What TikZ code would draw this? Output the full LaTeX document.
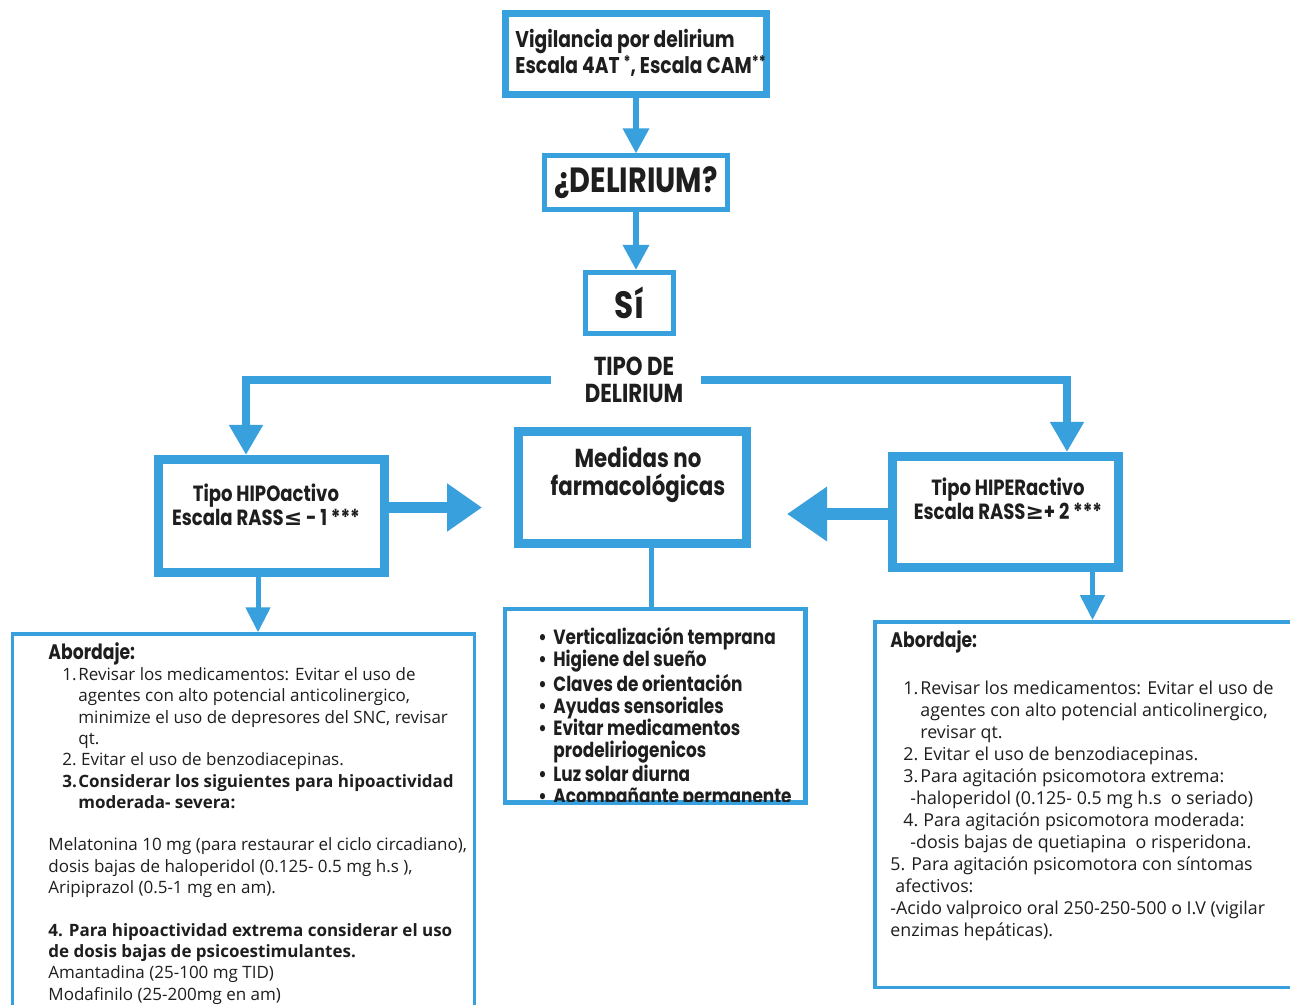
\documentclass[tikz,border=0pt]{standalone}
\usepackage{fontspec}
\setmainfont{Open Sans}
\newfontfamily\hfont{Poppins}[FakeStretch=0.82]
\newfontfamily\symfont{DejaVu Sans}
\usetikzlibrary{arrows.meta}
\definecolor{flowblue}{HTML}{38A0DD}
\definecolor{ink}{HTML}{1E1E1E}
\newcommand{\smallstars}[1]{\raisebox{3pt}{\fontsize{8}{8}\selectfont #1}}
\begin{document}
\begin{tikzpicture}[x=0.5pt,y=-0.5pt,
  box/.style={draw=flowblue, fill=white, rectangle, inner sep=0pt},
  heading/.style={text=ink, inner sep=0pt, align=center},
  body/.style={text=ink, inner sep=0pt, align=left, anchor=north west},
  conn/.style={draw=flowblue, line width=2.5pt, -{Triangle[width=12pt,length=12.5pt]}},
  topconn/.style={draw=flowblue, line width=3pt, -{Triangle[width=12.5pt,length=12.5pt]}},
  bigconn/.style={draw=flowblue, line width=4pt, -{Triangle[width=16pt,length=15pt]}},
  plainconn/.style={draw=flowblue, line width=2.5pt},
  blockarrow/.style={draw=flowblue, -{Triangle[width=23pt,length=17.5pt]}}
]
\useasboundingbox (0,0) rectangle (1290,1005);
\clip (0,0) rectangle (1290,1005);
\fill[white] (0,0) rectangle (1290,1005);

% ---- top of the flow ----
\node[box, line width=3.5pt, minimum width=130.5pt, minimum height=40.5pt] (vig) at (636,54) {};
\node[heading, align=left, anchor=west, font={\hfont\bfseries\fontsize{11.4}{12}\selectfont}] (vigtxt) at (515,53)
  {Vigilancia por delirium\\Escala 4AT \smallstars{*}, Escala CAM\smallstars{**}};

\node[box, line width=2.5pt, minimum width=91.5pt, minimum height=27pt,
      font={\hfont\bfseries\fontsize{17.5}{18}\selectfont}, text=ink] (delir) at (636,183) {¿DELIRIUM?};

\node[box, line width=2.5pt, minimum width=44pt, minimum height=30.5pt,
      font={\hfont\bfseries\fontsize{19}{19}\selectfont}, text=ink] (si) at (629.5,303) {Sí};

\node[heading, inner xsep=8.5pt, font={\hfont\bfseries\fontsize{13}{13.5}\selectfont}] (tipo) at (634,380)
  {TIPO DE\\DELIRIUM};

% ---- delirium types ----
\node[box, line width=4.5pt, minimum width=113pt, minimum height=56.5pt] (hipo) at (271,516) {};
\node[heading, font={\hfont\bfseries\fontsize{11}{12}\selectfont}] (hipotxt) at (266,505)
  {Tipo HIPOactivo\\Escala RASS{\symfont\bfseries ≤} - 1 ***};

\node[box, line width=4.5pt, minimum width=114pt, minimum height=56pt] (med) at (632.5,487.5) {};
\node[heading, font={\hfont\bfseries\fontsize{13}{14}\selectfont}] (medtxt) at (638,475)
  {Medidas no\\farmacológicas};

\node[box, line width=4.5pt, minimum width=113pt, minimum height=55.5pt] (hiper) at (1005.5,512) {};
\node[heading, font={\hfont\bfseries\fontsize{11}{12}\selectfont}] (hipertxt) at (1008,499)
  {Tipo HIPERactivo\\Escala RASS{\symfont\bfseries ≥}+ 2 ***};

% ---- lower panels ----
\node[box, line width=1.5pt, minimum width=149.5pt, minimum height=96pt] (list) at (655,705.5) {};
\node[box, line width=1.75pt, minimum width=231pt, minimum height=192pt] (botl) at (243.5,826) {};
\node[box, line width=1.75pt, minimum width=211.75pt, minimum height=182.75pt] (botr) at (1086.5,804.5) {};

% ---- connectors ----
\draw[topconn] (delir.north |- vig.south) -- (delir.north);
\draw[topconn] (delir.south) -- (delir.south |- si.north);
\draw[bigconn] ([xshift=-8pt]tipo.west) -| ([xshift=-12.5pt]hipo.north);
\draw[bigconn] (tipo.east) -| ([xshift=30.75pt]hiper.north);
\draw[blockarrow, line width=5.5pt, shorten >=16pt]
  ([yshift=4.25pt]hipo.east) -- ([yshift=4.25pt]hipo.east -| med.west);
\draw[blockarrow, line width=6pt, shorten >=18pt, -{Triangle[width=26pt,length=20pt]}]
  ([yshift=-1pt]hiper.west) -- ([yshift=-1pt]hiper.west -| med.east);
\draw[conn] ([xshift=-6.5pt]hipo.south) -- ([xshift=-6.5pt]hipo.south |- botl.north);
\draw[conn] ([xshift=43.5pt]hiper.south) -- ([xshift=43.5pt]hiper.south |- botr.north);
\draw[plainconn] ([xshift=9.5pt]med.south) -- ([xshift=9.5pt]med.south |- list.north);

% ---- non-pharmacological measures ----
\begin{scope}
\clip (list.south west) rectangle (list.north east);
\node[body, font={\hfont\bfseries\fontsize{10.3}{11}\selectfont}] (listtxt) at (538,627)
  {\makebox[7.5pt][l]{•}Verticalización temprana\\
   \makebox[7.5pt][l]{•}Higiene del sueño\\
   \makebox[7.5pt][l]{•}Claves de orientación\\
   \makebox[7.5pt][l]{•}Ayudas sensoriales\\
   \makebox[7.5pt][l]{•}Evitar medicamentos\\
   \hspace*{7.5pt}prodeliriogenicos\\
   \makebox[7.5pt][l]{•}Luz solar diurna\\
   \makebox[7.5pt][l]{•}Acompañante permanente};
\end{scope}
\draw[flowblue, line width=1.5pt] (list.south west) rectangle (list.north east);

% ---- hypoactive management ----
\node[body, font={\fontsize{8.5}{10.65}\selectfont}] (botltxt) at (48,642)
  {{\hfont\bfseries\fontsize{10.5}{10.65}\selectfont Abordaje:}\\
   \hspace*{7pt}\makebox[8pt][l]{1.}Revisar los medicamentos: Evitar el uso de\\
   \hspace*{15pt}agentes con alto potencial anticolinergico,\\
   \hspace*{15pt}minimize el uso de depresores del SNC, revisar\\
   \hspace*{15pt}qt.\\
   \hspace*{7pt}\makebox[8pt][l]{2.}\,Evitar el uso de benzodiacepinas.\\
   \hspace*{7pt}\makebox[8pt][l]{\bfseries 3.}\textbf{Considerar los siguientes para hipoactividad}\\
   \hspace*{15pt}\textbf{moderada- severa:}\\[10.65pt]
   Melatonina 10 mg (para restaurar el ciclo circadiano),\\
   dosis bajas de haloperidol (0.125- 0.5 mg h.s ),\\
   Aripiprazol (0.5-1 mg en am).\\[10.65pt]
   \textbf{4. Para hipoactividad extrema considerar el uso}\\
   \textbf{de dosis bajas de psicoestimulantes.}\\
   Amantadina (25-100 mg TID)\\
   Modafinilo (25-200mg en am)};

% ---- hyperactive management ----
\node[body, font={\fontsize{8.9}{11}\selectfont}] (botrtxt) at (890,630)
  {{\hfont\bfseries\fontsize{10.5}{11}\selectfont Abordaje:}\\[12.5pt]
   \hspace*{6.5pt}\makebox[8.5pt][l]{1.}Revisar los medicamentos: Evitar el uso de\\
   \hspace*{15pt}agentes con alto potencial anticolinergico,\\
   \hspace*{15pt}revisar qt.\\
   \hspace*{6.5pt}\makebox[8.5pt][l]{2.}\,Evitar el uso de benzodiacepinas.\\
   \hspace*{6.5pt}\makebox[8.5pt][l]{3.}Para agitación psicomotora extrema:\\
   \hspace*{10pt}-haloperidol (0.125- 0.5 mg h.s\ \ o seriado)\\
   \hspace*{6.5pt}\makebox[8.5pt][l]{4.}\,Para agitación psicomotora moderada:\\
   \hspace*{10pt}-dosis bajas de quetiapina\ \ o risperidona.\\
   5. Para agitación psicomotora con síntomas\\
   \hspace*{2.5pt}afectivos:\\
   -Acido valproico oral 250-250-500 o I.V (vigilar\\
   enzimas hepáticas).};
\end{tikzpicture}
\end{document}
